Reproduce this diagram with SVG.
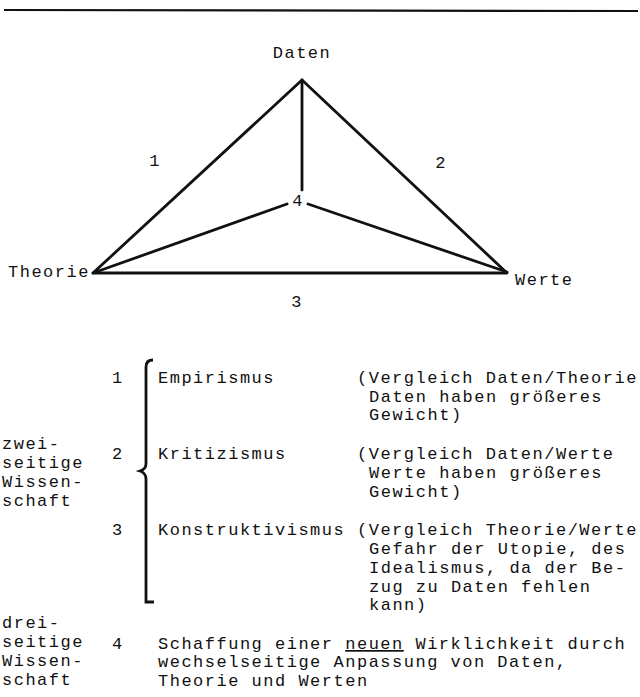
<svg xmlns="http://www.w3.org/2000/svg" width="640" height="697" viewBox="0 0 640 697">
<style>
text{font-family:"Liberation Mono","DejaVu Sans Mono",monospace;font-size:17px;letter-spacing:1.5px;fill:#111}
.ln{stroke:#111;stroke-width:2.8;fill:none;stroke-linecap:round;stroke-linejoin:round}
</style>
<rect width="640" height="697" fill="#fff"/>
<line x1="4" y1="10" x2="638" y2="11" stroke="#111" stroke-width="2.2"/>
<g id="connectors">
<path class="ln" d="M302,80 L93,273 L507,273 Z"/>
<line class="ln" x1="302" y1="80" x2="302" y2="190"/>
<line class="ln" x1="93" y1="273" x2="287" y2="204"/>
<line class="ln" x1="308" y1="204" x2="507" y2="272"/>
</g>
<g id="node-daten"><text x="302" y="58" text-anchor="middle">Daten</text></g>
<g id="node-theorie"><text x="8" y="277">Theorie</text></g>
<g id="node-werte"><text x="515" y="285">Werte</text></g>
<g id="labels">
<text x="155" y="166" text-anchor="middle">1</text>
<text x="441" y="168" text-anchor="middle">2</text>
<text x="297" y="307" text-anchor="middle">3</text>
<text x="298" y="206" text-anchor="middle">4</text>
</g>
<g id="legend">
<path d="M153,360 Q146,360 146,367 L146,464 Q146,469 140,471 Q146,473 146,479 L146,602 L154,602" stroke="#111" stroke-width="2.8" fill="none"/>
<text x="112" y="383">1</text>
<text x="158" y="383">Empirismus</text>
<text x="357" y="383">(Vergleich Daten/Theorie</text>
<text x="369" y="402">Daten haben größeres</text>
<text x="369" y="420">Gewicht)</text>
<text x="2" y="449">zwei-</text>
<text x="2" y="468">seitige</text>
<text x="2" y="487">Wissen-</text>
<text x="2" y="506">schaft</text>
<text x="112" y="459">2</text>
<text x="158" y="459">Kritizismus</text>
<text x="357" y="459">(Vergleich Daten/Werte</text>
<text x="369" y="478">Werte haben größeres</text>
<text x="369" y="497">Gewicht)</text>
<text x="112" y="535">3</text>
<text x="158" y="535">Konstruktivismus</text>
<text x="357" y="535">(Vergleich Theorie/Werte</text>
<text x="369" y="554">Gefahr der Utopie, des</text>
<text x="369" y="573">Idealismus, da der Be-</text>
<text x="369" y="592">zug zu Daten fehlen</text>
<text x="369" y="610">kann)</text>
<text x="2" y="628">drei-</text>
<text x="2" y="647">seitige</text>
<text x="2" y="666">Wissen-</text>
<text x="2" y="685">schaft</text>
<text x="112" y="649">4</text>
<text x="158" y="649">Schaffung einer <tspan text-decoration="underline">neuen</tspan> Wirklichkeit durch</text>
<text x="158" y="667">wechselseitige Anpassung von Daten,</text>
<text x="158" y="686">Theorie und Werten</text>
</g>
</svg>
